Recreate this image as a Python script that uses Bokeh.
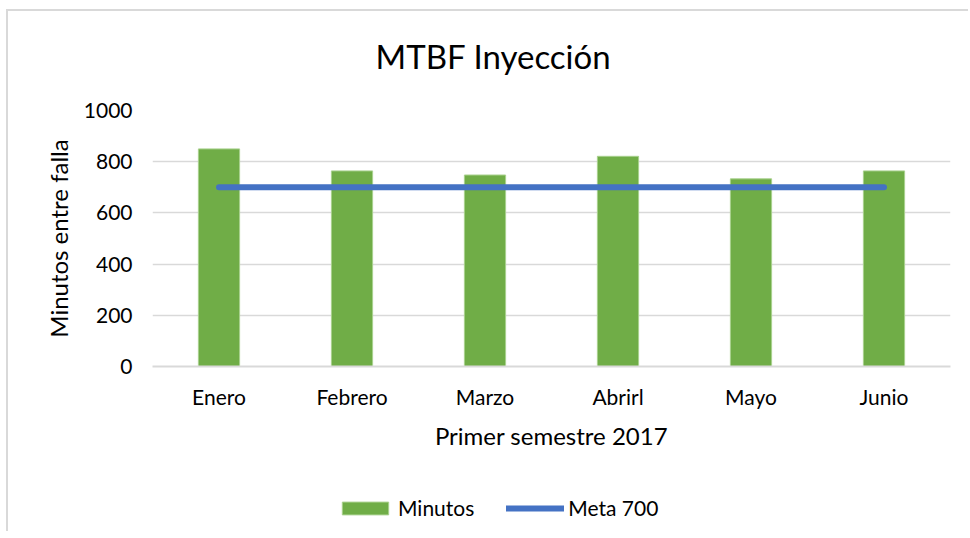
from bokeh.plotting import figure
from bokeh.layouts import column
from bokeh.models import FactorRange, Range1d, Legend, LegendItem, FixedTicker, Label
from bokeh.embed import file_html
from bokeh.resources import INLINE

months = ["Enero", "Febrero", "Marzo", "Abrirl", "Mayo", "Junio"]
minutos = [850, 764, 748, 821, 733, 764]
meta = [700, 700, 700, 700, 700, 700]
y_ticks = [0, 200, 400, 600, 800, 1000]

FONT = "Lato"
TXT = "#000000"
GREEN = "#70ad47"
GREEN_EDGE = "#a9d18e"
BLUE = "#4472c4"

xr = FactorRange(*months, range_padding=0)

# ---- title strip ----
pt = figure(width=960, height=85, output_backend="svg", toolbar_location=None,
            x_range=xr, y_range=Range1d(0, 85), x_axis_type=None, y_axis_type=None,
            min_border=0)
pt.outline_line_color = None
pt.grid.grid_line_color = None
pt.add_layout(Label(x=2.564, y=41, text="MTBF Inyección", text_font=FONT, text_font_size="33px",
                    text_align="center", text_baseline="middle", text_color=TXT))

# ---- main chart ----
p = figure(width=960, height=375, output_backend="svg", toolbar_location=None,
           x_range=xr, y_range=Range1d(0, 1000),
           min_border_left=144, min_border_right=18, min_border_top=14, min_border_bottom=105)
p.outline_line_color = None
p.background_fill_color = "white"

bars = p.vbar(x=months, top=minutos, width=0.31, fill_color=GREEN, line_color=GREEN_EDGE, line_width=1)
line = p.line(x=months, y=meta, line_color=BLUE, line_width=6, line_cap="round")

p.xgrid.grid_line_color = None
p.ygrid.grid_line_color = "#d9d9d9"
p.ygrid.grid_line_width = 1.5

p.yaxis.ticker = FixedTicker(ticks=y_ticks)
p.yaxis.axis_line_color = None
p.yaxis.major_tick_line_color = None
p.yaxis.minor_tick_line_color = None
p.yaxis.major_label_standoff = 14
p.yaxis.axis_label = "Minutos entre falla"
p.yaxis.axis_label_standoff = 8

p.xaxis.axis_line_color = "#d9d9d9"
p.xaxis.axis_line_width = 2
p.xaxis.major_tick_line_color = None
p.xaxis.minor_tick_line_color = None
p.xaxis.major_label_standoff = 11
p.xaxis.axis_label = "Primer semestre 2017"
p.xaxis.axis_label_standoff = 9

for ax in (p.xaxis, p.yaxis):
    ax.major_label_text_font = FONT
    ax.major_label_text_font_size = "21px"
    ax.major_label_text_color = TXT
    ax.axis_label_text_font = FONT
    ax.axis_label_text_font_size = "24px"
    ax.axis_label_text_font_style = "normal"
    ax.axis_label_text_color = TXT

# ---- legend strip (own figure so the legend is not clipped by the main frame) ----
pl = figure(width=960, height=60, output_backend="svg", toolbar_location=None,
            x_range=xr, y_range=Range1d(5000, 6000), x_axis_type=None, y_axis_type=None,
            min_border=0)
pl.outline_line_color = None
pl.grid.grid_line_color = None
leg_bar = pl.vbar(x=months, top=minutos, width=0.31, fill_color=GREEN, line_color=GREEN_EDGE, line_width=1)
leg_line = pl.line(x=months, y=meta, line_color=BLUE, line_width=6, line_cap="round")

legend = Legend(items=[LegendItem(label="Minutos", renderers=[leg_bar]),
                       LegendItem(label="Meta 700", renderers=[leg_line])],
                orientation="horizontal", location=(184, 11),
                glyph_width=58, glyph_height=16, label_standoff=4, spacing=32,
                padding=0, margin=0, border_line_color=None, background_fill_alpha=0,
                label_text_font=FONT, label_text_font_size="21px", label_text_color=TXT,
                label_height=20)
pl.add_layout(legend, "center")

layout = column(pt, p, pl, spacing=0)
layout.styles = {"border-top": "2px solid #d9d9d9", "border-left": "2px solid #d9d9d9",
                 "margin-left": "6px", "margin-top": "9px"}

open("out.html", "w").write(file_html(layout, INLINE))
